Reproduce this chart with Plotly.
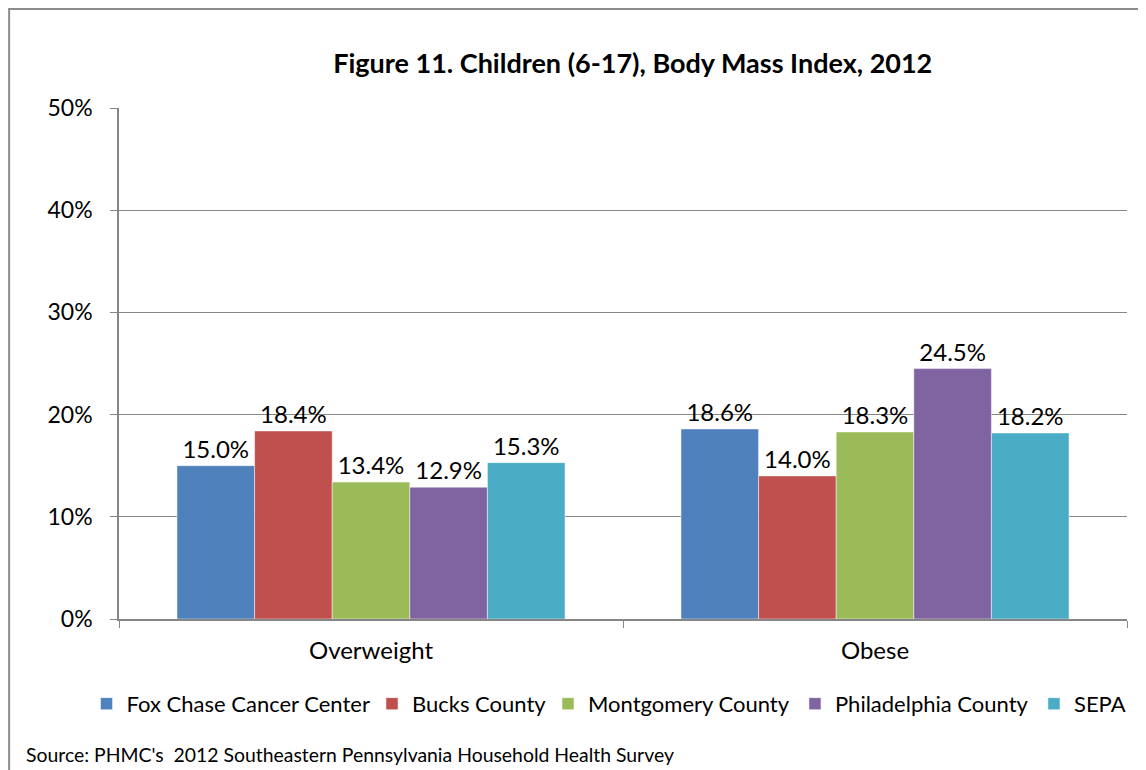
import plotly.graph_objects as go

categories = ["Overweight", "Obese"]
series_names = ["Fox Chase Cancer Center", "Bucks County", "Montgomery County",
                "Philadelphia County", "SEPA"]
fox_chase = [0.150, 0.186]
bucks = [0.184, 0.140]
montgomery = [0.134, 0.183]
philadelphia = [0.129, 0.245]
sepa = [0.153, 0.182]
colors = ["#4F81BD", "#C0504D", "#9BBB59", "#8064A2", "#4BACC6"]

FONT = "Lato, Calibri, sans-serif"

# one legend per series so entries sit where Excel put them (paper x of legend left edge)
legend_ids = ["legend", "legend2", "legend3", "legend4", "legend5"]
legend_x = [-0.0322, 0.2510, 0.4256, 0.6706, 0.9077]

fig = go.Figure()
for name, vals, col, lid in zip(series_names, [fox_chase, bucks, montgomery, philadelphia, sepa],
                                colors, legend_ids):
    fig.add_trace(go.Bar(
        x=categories, y=vals, name=name, legend=lid,
        marker=dict(color=col, line=dict(color="rgba(255,255,255,0.6)", width=0.8)),
        text=[f"{v*100:.1f}%" for v in vals],
        textposition="outside",
        textfont=dict(size=24, color="black", family=FONT),
        cliponaxis=False,
    ))

# chart border (page body has an 8px margin, so the figure is offset)
fig.add_shape(type="rect", xref="paper", yref="paper",
              x0=-0.109, x1=1.08, y0=-0.35, y1=1.1937,
              line=dict(color="#8C8C8C", width=2), layer="below")

fig.add_annotation(text="Source: PHMC's  2012 Southeastern Pennsylvania Household Health Survey",
                   xref="paper", yref="paper", x=-0.0945, y=-0.266,
                   xanchor="left", yanchor="middle", showarrow=False,
                   font=dict(size=19.4, color="black", family=FONT))

legend_style = dict(orientation="h", y=-0.166, yanchor="middle", xanchor="left",
                    font=dict(size=22, family=FONT), itemwidth=30,
                    bgcolor="rgba(0,0,0,0)", borderwidth=0)
legends = {lid: dict(x=lx, **legend_style) for lid, lx in zip(legend_ids, legend_x)}

fig.update_layout(
    width=1138, height=762,
    paper_bgcolor="white", plot_bgcolor="white",
    font=dict(family=FONT, color="black"),
    title=dict(text="<b>Figure 11. Children (6-17), Body Mass Index, 2012</b>",
               x=0.549, xanchor="center", y=0.9265, yanchor="middle",
               font=dict(size=27, color="black", family=FONT)),
    barmode="group", bargap=0.23, bargroupgap=0,
    margin=dict(l=111, r=19, t=100, b=151),
    showlegend=True,
    xaxis=dict(showline=True, linecolor="#868686", linewidth=1.5,
               ticks="outside", tickson="boundaries", ticklen=7, tickcolor="#868686",
               ticklabelstandoff=9,
               tickfont=dict(size=24, family=FONT)),
    yaxis=dict(range=[0, 0.5], dtick=0.1, tickformat=".0%",
               showline=True, linecolor="#868686", linewidth=1.5,
               ticks="outside", ticklen=7, tickcolor="#868686",
               ticklabelstandoff=13,
               showgrid=True, gridcolor="#868686", gridwidth=1.2,
               zeroline=False, tickfont=dict(size=23, family=FONT)),
    **legends,
)

fig.write_html("out.html")
